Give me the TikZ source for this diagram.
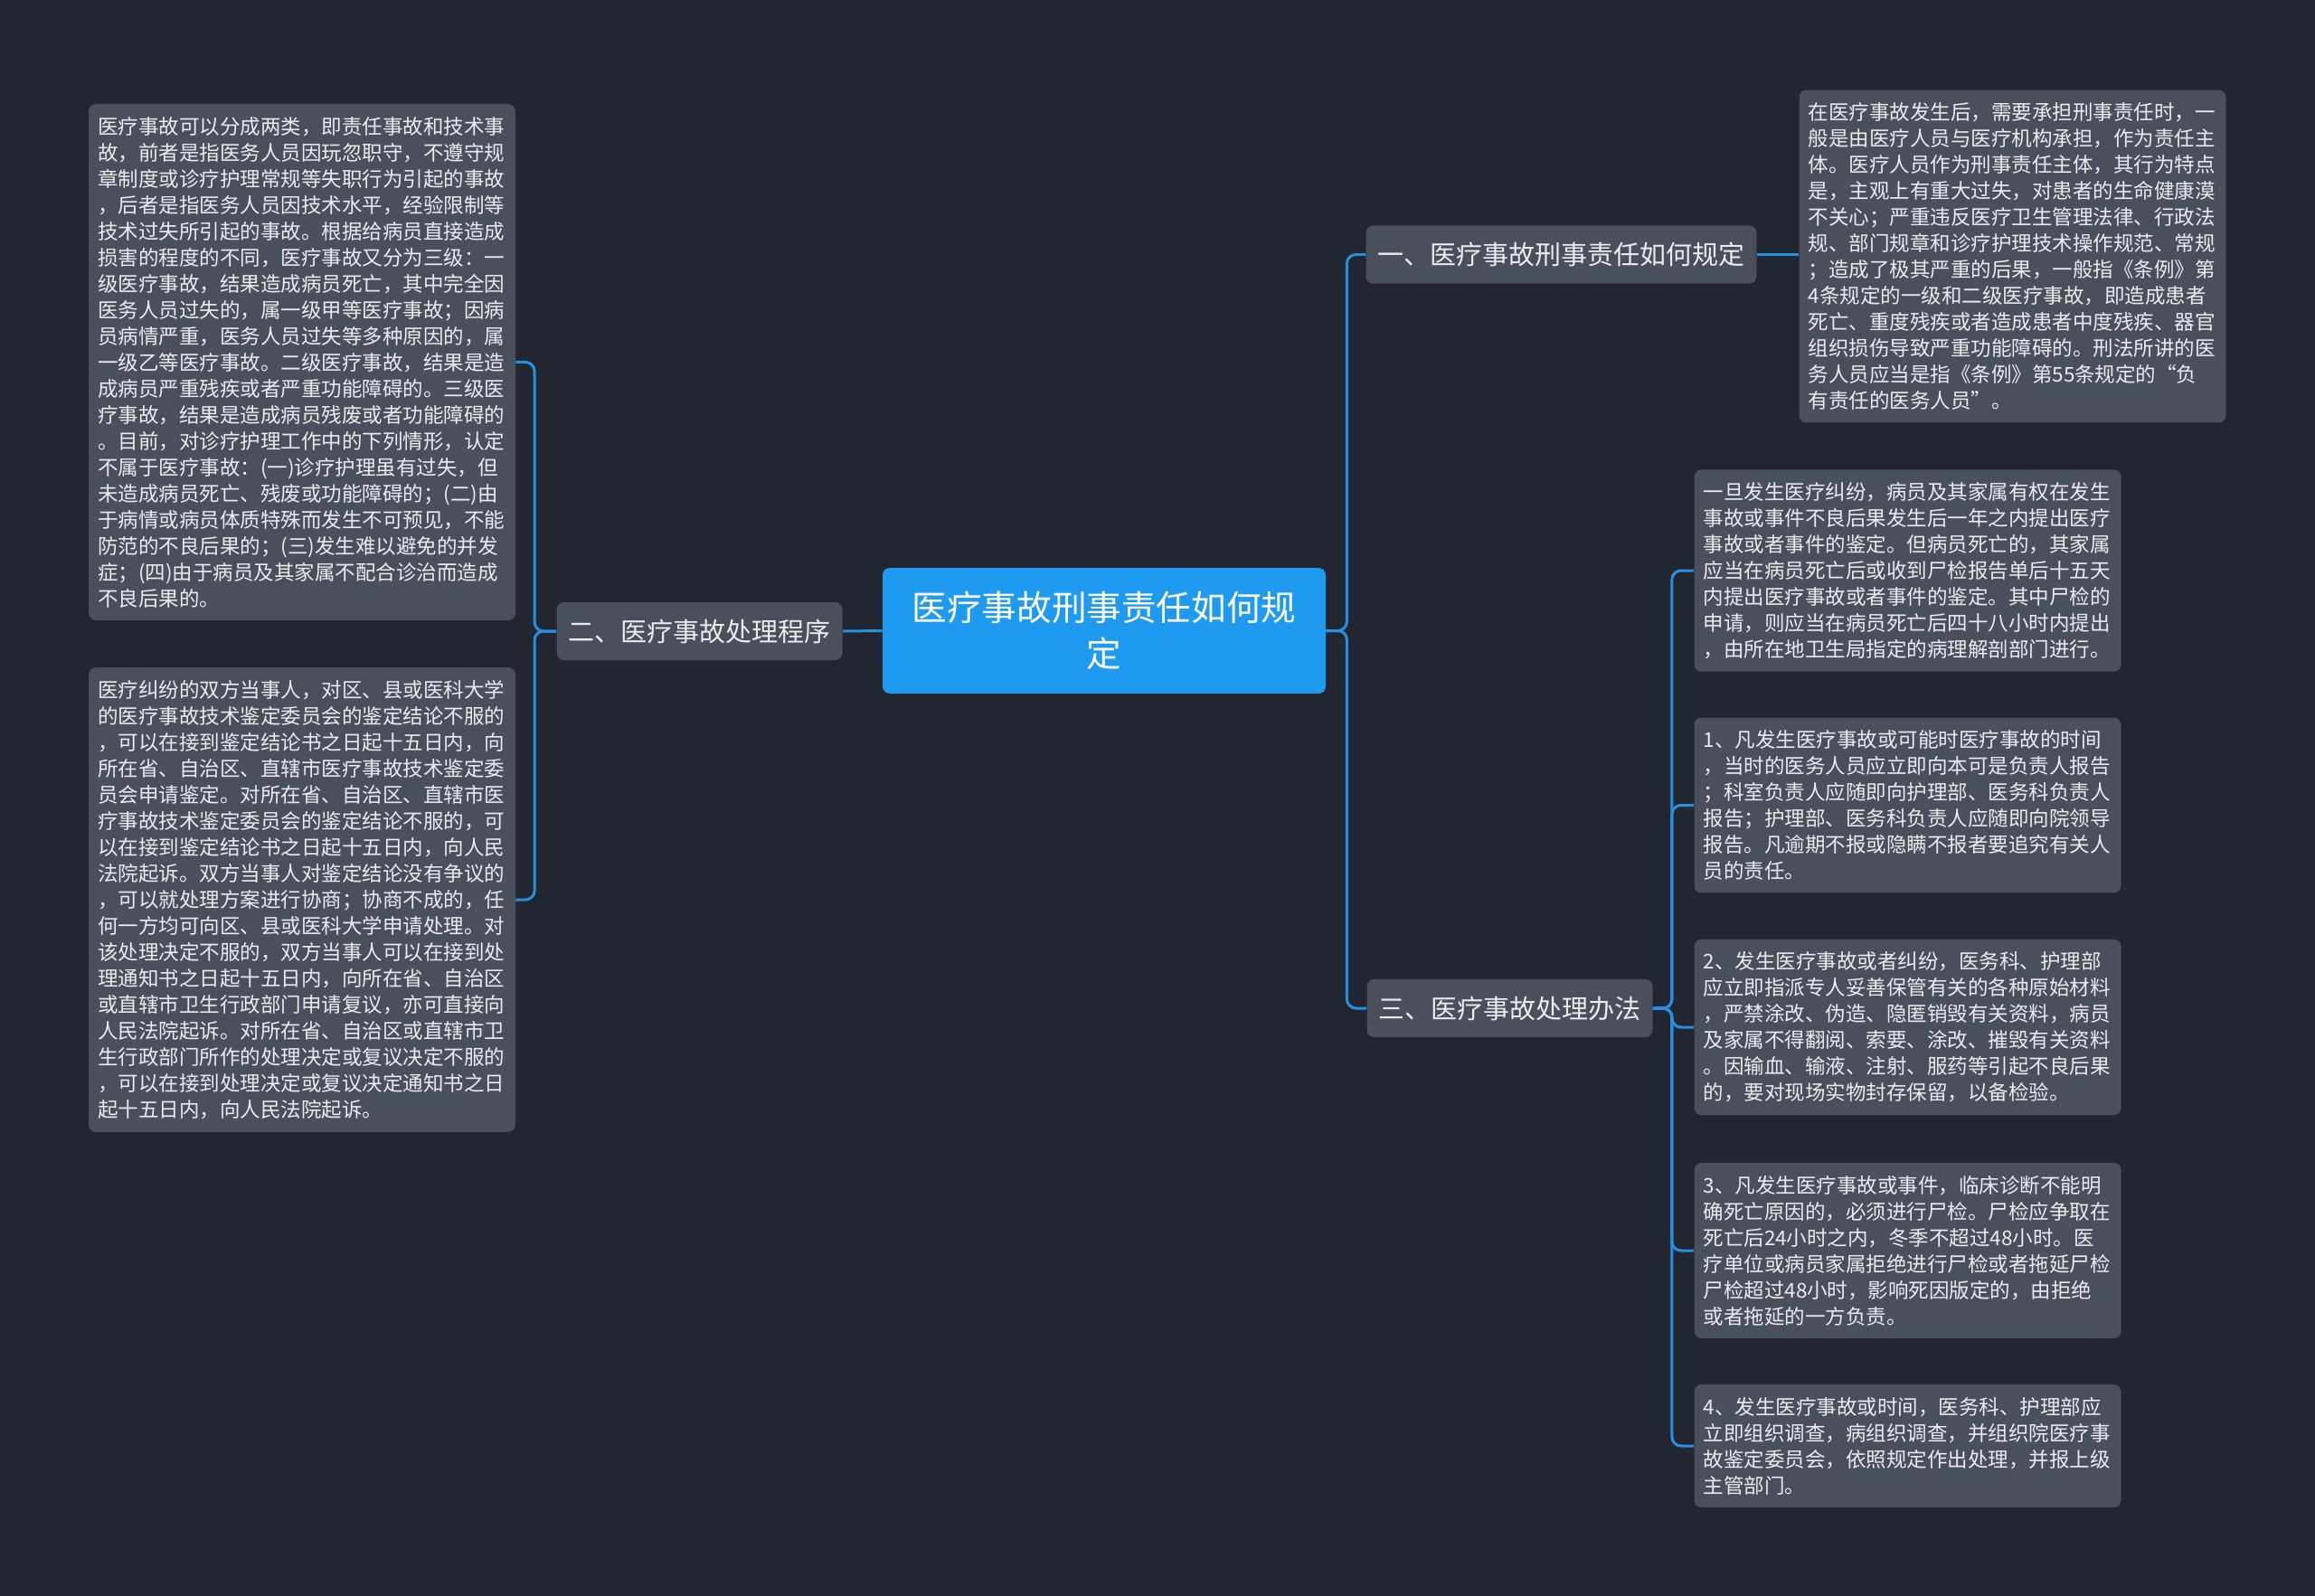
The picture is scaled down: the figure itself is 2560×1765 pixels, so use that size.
\documentclass[tikz,border=0pt]{standalone}
\usepackage{fontspec}
\setmainfont{Noto Sans CJK SC}
\usetikzlibrary{positioning}

\definecolor{bgdark}{RGB}{34,38,49}
\definecolor{boxgray}{RGB}{74,79,92}
\definecolor{rootblue}{RGB}{30,154,240}
\definecolor{lineblue}{RGB}{38,144,226}
\definecolor{textlight}{RGB}{236,236,236}

\tikzset{
  rootbox/.style={fill=rootblue, rounded corners=4pt, text=white, align=center,
    font=\fontsize{19.3}{25.3}\selectfont, minimum width=245pt, minimum height=69.5pt},
  branchbox/.style={fill=boxgray, rounded corners=4pt, text=textlight,
    font=\fontsize{14.5}{17}\selectfont, inner xsep=6.5pt, minimum height=32pt},
  leafbox/.style={fill=boxgray, rounded corners=4pt, text=textlight, align=left,
    text width=226pt, inner xsep=5pt, inner ysep=7pt,
    font=\fontsize{11.25}{14.5}\selectfont},
  link/.style={draw=lineblue, line width=1.5pt, rounded corners=5pt},
}

\begin{document}
\begin{tikzpicture}[x=0.5pt, y=-0.5pt]

%%% 背景
\fill[bgdark] (0,0) rectangle (2560,1765);
%%%

%% 中心
\node[rootbox] (root) at (1221,697.5) {医疗事故刑事责任如何规\\定};

%% 分支
\node[branchbox] (b1) at (1726.5,281.5) {一、医疗事故刑事责任如何规定};
\node[branchbox] (b2) at (773.5,698) {二、医疗事故处理程序};
\node[branchbox] (b3) at (1669.5,1115) {三、医疗事故处理办法};

%% 左
\node[leafbox] (l1) at (334,400.5) {医疗事故可以分成两类，即责任事故和技术事\\
故，前者是指医务人员因玩忽职守，不遵守规\\
章制度或诊疗护理常规等失职行为引起的事故\\
，后者是指医务人员因技术水平，经验限制等\\
技术过失所引起的事故。根据给病员直接造成\\
损害的程度的不同，医疗事故又分为三级：一\\
级医疗事故，结果造成病员死亡，其中完全因\\
医务人员过失的，属一级甲等医疗事故；因病\\
员病情严重，医务人员过失等多种原因的，属\\
一级乙等医疗事故。二级医疗事故，结果是造\\
成病员严重残疾或者严重功能障碍的。三级医\\
疗事故，结果是造成病员残废或者功能障碍的\\
。目前，对诊疗护理工作中的下列情形，认定\\
不属于医疗事故：(一)诊疗护理虽有过失，但\\
未造成病员死亡、残废或功能障碍的；(二)由\\
于病情或病员体质特殊而发生不可预见，不能\\
防范的不良后果的；(三)发生难以避免的并发\\
症；(四)由于病员及其家属不配合诊治而造成\\
不良后果的。};

\node[leafbox] (l2) at (334,995) {医疗纠纷的双方当事人，对区、县或医科大学\\
的医疗事故技术鉴定委员会的鉴定结论不服的\\
，可以在接到鉴定结论书之日起十五日内，向\\
所在省、自治区、直辖市医疗事故技术鉴定委\\
员会申请鉴定。对所在省、自治区、直辖市医\\
疗事故技术鉴定委员会的鉴定结论不服的，可\\
以在接到鉴定结论书之日起十五日内，向人民\\
法院起诉。双方当事人对鉴定结论没有争议的\\
，可以就处理方案进行协商；协商不成的，任\\
何一方均可向区、县或医科大学申请处理。对\\
该处理决定不服的，双方当事人可以在接到处\\
理通知书之日起十五日内，向所在省、自治区\\
或直辖市卫生行政部门申请复议，亦可直接向\\
人民法院起诉。对所在省、自治区或直辖市卫\\
生行政部门所作的处理决定或复议决定不服的\\
，可以在接到处理决定或复议决定通知书之日\\
起十五日内，向人民法院起诉。};

%% 右上
\node[leafbox] (rt) at (2225.5,283.5) {在医疗事故发生后，需要承担刑事责任时，一\\
般是由医疗人员与医疗机构承担，作为责任主\\
体。医疗人员作为刑事责任主体，其行为特点\\
是，主观上有重大过失，对患者的生命健康漠\\
不关心；严重违反医疗卫生管理法律、行政法\\
规、部门规章和诊疗护理技术操作规范、常规\\
；造成了极其严重的后果，一般指《条例》第\\
4条规定的一级和二级医疗事故，即造成患者\\
死亡、重度残疾或者造成患者中度残疾、器官\\
组织损伤导致严重功能障碍的。刑法所讲的医\\
务人员应当是指《条例》第55条规定的“负\\
有责任的医务人员”。};

%% 右下
\node[leafbox] (r1) at (2109.5,631) {一旦发生医疗纠纷，病员及其家属有权在发生\\
事故或事件不良后果发生后一年之内提出医疗\\
事故或者事件的鉴定。但病员死亡的，其家属\\
应当在病员死亡后或收到尸检报告单后十五天\\
内提出医疗事故或者事件的鉴定。其中尸检的\\
申请，则应当在病员死亡后四十八小时内提出\\
，由所在地卫生局指定的病理解剖部门进行。};

\node[leafbox] (r2) at (2109.5,890.5) {1、凡发生医疗事故或可能时医疗事故的时间\\
，当时的医务人员应立即向本可是负责人报告\\
；科室负责人应随即向护理部、医务科负责人\\
报告；护理部、医务科负责人应随即向院领导\\
报告。凡逾期不报或隐瞒不报者要追究有关人\\
员的责任。};

\node[leafbox] (r3) at (2109.5,1136) {2、发生医疗事故或者纠纷，医务科、护理部\\
应立即指派专人妥善保管有关的各种原始材料\\
，严禁涂改、伪造、隐匿销毁有关资料，病员\\
及家属不得翻阅、索要、涂改、摧毁有关资料\\
。因输血、输液、注射、服药等引起不良后果\\
的，要对现场实物封存保留，以备检验。};

\node[leafbox] (r4) at (2109.5,1383) {3、凡发生医疗事故或事件，临床诊断不能明\\
确死亡原因的，必须进行尸检。尸检应争取在\\
死亡后24小时之内，冬季不超过48小时。医\\
疗单位或病员家属拒绝进行尸检或者拖延尸检\\
尸检超过48小时，影响死因版定的，由拒绝\\
或者拖延的一方负责。};

\node[leafbox] (r5) at (2109.5,1599) {4、发生医疗事故或时间，医务科、护理部应\\
立即组织调查，病组织调查，并组织院医疗事\\
故鉴定委员会，依照规定作出处理，并报上级\\
主管部门。};

%% 線
\draw[link] (root.east) -- ++(23,0) |- (b1.west);
\draw[link] (root.east) -- ++(23,0) |- (b3.west);
\draw[link] (root.west) -- (b2.east);

\draw[link] (b2.west) -- ++(-24,0) |- (l1.east);
\draw[link] (b2.west) -- ++(-24,0) |- (l2.east);

\draw[link] (b1.east) -- (b1.east -| rt.west);

\draw[link] (b3.east) -- ++(21,0) |- (r1.west);
\draw[link] (b3.east) -- ++(21,0) |- (r2.west);
\draw[link] (b3.east) -- ++(21,0) |- (r3.west);
\draw[link] (b3.east) -- ++(21,0) |- (r4.west);
\draw[link] (b3.east) -- ++(21,0) |- (r5.west);

\end{tikzpicture}
\end{document}
